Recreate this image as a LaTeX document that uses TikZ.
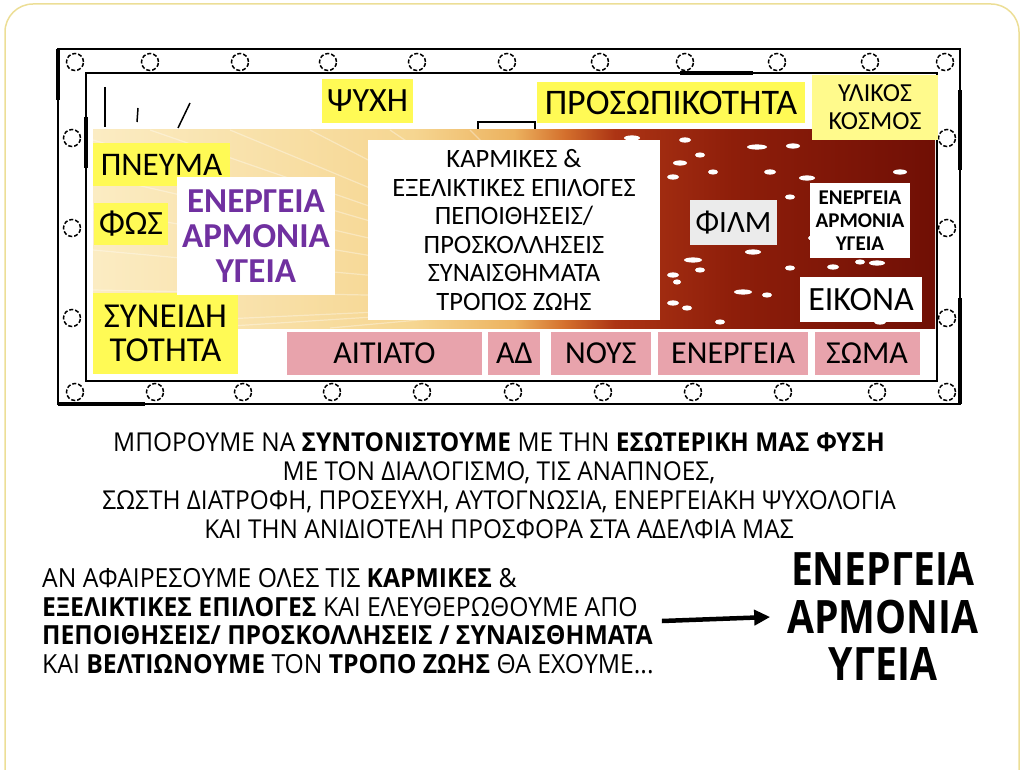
\documentclass[tikz,border=0pt]{standalone}
\usepackage{fontspec}
\setmainfont{Carlito}
\newfontfamily\condFont[FakeStretch=0.94]{Open Sans}
\newfontfamily\bigFont[FakeStretch=0.85]{Open Sans}
\usetikzlibrary{arrows.meta, positioning}
\definecolor{yellowTag}{RGB}{255,250,85}
\definecolor{yellowSoft}{RGB}{255,250,140}
\definecolor{pinkRow}{RGB}{232,163,172}
\definecolor{purpleTxt}{RGB}{112,48,160}
\definecolor{greyFilm}{RGB}{235,235,235}
\definecolor{slideEdge}{RGB}{236,222,150}
\definecolor{glowA}{RGB}{251,236,195}
\definecolor{glowB}{RGB}{246,214,145}
\definecolor{glowC}{RGB}{236,178,95}
\definecolor{glowD}{RGB}{212,112,45}
\definecolor{glowE}{RGB}{172,52,20}
\definecolor{glowF}{RGB}{142,30,10}
\definecolor{glowG}{RGB}{112,15,5}
\pgfdeclarehorizontalshading{filmGlow}{100bp}{color(0bp)=(glowA); color(25bp)=(glowA);
  color(44bp)=(glowB); color(50bp)=(glowC); color(53bp)=(glowD); color(56bp)=(glowE);
  color(63bp)=(glowF); color(75bp)=(glowG); color(100bp)=(glowG)}
\newcommand\fsz[2]{\fontsize{#1}{#2}\selectfont}

\begin{document}
\begin{tikzpicture}[x=1pt, y=-1pt,
  tag/.style={fill=yellowTag, inner sep=0pt, align=center, font=\fsz{33}{36}},
  card/.style={fill=white, inner sep=0pt, align=center},
  pinkBar/.style={fill=pinkRow, inner sep=0pt, minimum height=43pt, font=\fsz{32}{34}},
  frameLine/.style={draw=black, line width=2pt},
  heavy/.style={line width=4pt},
  sprocket/.style={draw=black, line width=1.5pt, dash pattern=on 4pt off 2pt},
  spot/.style={fill=white},
  ray/.style={white, opacity=0.35, line width=1.2pt},
  arr/.style={-{Triangle[length=16pt, width=15pt]}, line width=4.5pt}
]
  \useasboundingbox (0,0) rectangle (1024,770);
  \clip (0,0) rectangle (1024,770);
  \draw[slideEdge, line width=1.5pt, rounded corners=28pt] (5,4) rectangle (1019,800);

  % film frame
  \draw[frameLine] (58,49) rectangle (960,404);
  \draw[frameLine] (86,73) rectangle (937,381);
  \draw[heavy] (58,49) -- (58,100);
  \draw[heavy] (58,404) -- (145,404);
  \draw[heavy] (86,117) -- (86,168);
  \draw[heavy] (960,90) -- (960,170);
  \draw[heavy] (960,298) -- (960,404);
  \draw[heavy] (680,73) -- (753,73);
  \foreach \cx in {75,150,240,328,417,507,600,685,777,870,945}
    \draw[sprocket] (\cx,62) circle (8.5pt);
  \foreach \cx in {75,155,243,332,422,513,603,693,783,877,947}
    \draw[sprocket] (\cx,392) circle (8.5pt);
  \foreach \cy in {138,228,318} {
    \draw[sprocket] (72,\cy) circle (8.5pt);
    \draw[sprocket] (947,\cy) circle (8.5pt);
  }
  \draw[line width=1.5pt] (105,87) -- (105,127);
  \draw[line width=1.5pt] (138,108) -- (137,122);
  \draw[line width=1.5pt] (190,103) -- (178,128);
  \draw[line width=1.2pt] (478,132) -- (478,122) -- (535,122) -- (535,132);

  % glowing picture
  \shade[shading=filmGlow] (93,130) rectangle (935,328);
  \begin{scope}
    \clip (93,130) rectangle (600,328);
    \foreach \ex/\ey in {93/140,93/175,93/210,93/250,93/290,93/325,150/130,230/130,310/130,390/130,470/130,200/328,330/328}
      \draw[ray] (640,300) -- (\ex,\ey);
  \end{scope}
  \foreach \sx/\sy/\sr in {632/138/8,685/140/6,757/147/10,793/146/7,700/155/5,680/163/7,713/172/5,
      673/177/6,770/172/6,807/178/8,790/197/5,837/192/6,900/172/7,900/192/5,753/252/8,693/260/9,
      700/270/5,673/275/6,743/292/9,767/295/5,677/282/4,673/303/6,687/308/5,833/267/6,860/262/5,
      877/263/8,790/268/5,700/233/4,813/238/5,720/322/5,880/322/6}
    \fill[spot] (\sx,\sy) ellipse (\sr pt and 2.6pt);

  % labels
  \node[tag, minimum width=91pt, minimum height=44pt, font=\fsz{34}{36}] (psyche) at (367.5,101) {ΨΥΧΗ};
  \node[tag, minimum width=268pt, minimum height=41pt, font=\fsz{36}{38}] (persona) at (671,102.5) {ΠΡΟΣΩΠΙΚΟΤΗΤΑ};
  \node[tag, fill=yellowSoft, minimum width=126pt, minimum height=65pt, font=\fsz{26}{28}] (matter) at (875,107.5) {ΥΛΙΚΟΣ\\ΚΟΣΜΟΣ};
  \node[tag, minimum width=137pt, minimum height=43pt] (spirit) at (161.5,164.5) {ΠΝΕΥΜΑ};
  \node[tag, minimum width=74pt, minimum height=42pt, font=\fsz{34}{36}] (light) at (131,224) {ΦΩΣ};
  \node[tag, minimum width=145pt, minimum height=81pt, font=\fsz{35}{34}] (conscious) at (165.5,333.5) {ΣΥΝΕΙΔΗ\\ΤΟΤΗΤΑ};
  \node[card, minimum width=158pt, minimum height=118pt, text=purpleTxt, font=\bfseries\fsz{35}{35}] (health) at (256,236) {ΕΝΕΡΓΕΙΑ\\ΑΡΜΟΝΙΑ\\ΥΓΕΙΑ};
  \node[card, minimum width=292pt, minimum height=180pt, font=\fsz{26.5}{28.5}] (choices) at (514,230) {ΚΑΡΜΙΚΕΣ \&\\ΕΞΕΛΙΚΤΙΚΕΣ ΕΠΙΛΟΓΕΣ\\ΠΕΠΟΙΘΗΣΕΙΣ/\\ΠΡΟΣΚΟΛΛΗΣΕΙΣ\\ΣΥΝΑΙΣΘΗΜΑΤΑ\\ΤΡΟΠΟΣ ΖΩΗΣ};
  \node[card, fill=greyFilm, minimum width=87pt, minimum height=45pt, font=\fsz{31}{34}] (film) at (733.5,222.5) {ΦΙΛΜ};
  \node[card, minimum width=100pt, minimum height=75pt, font=\bfseries\fsz{21}{23}] (smallHealth) at (860,220.5) {ΕΝΕΡΓΕΙΑ\\ΑΡΜΟΝΙΑ\\ΥΓΕΙΑ};
  \node[card, minimum width=122pt, minimum height=45pt, font=\fsz{34}{35}] (image) at (861,299.5) {ΕΙΚΟΝΑ};

  % bottom strip
  \node[pinkBar, minimum width=195pt] (effect) at (384.5,353.5) {ΑΙΤΙΑΤΟ};
  \node[pinkBar, minimum width=52pt, right=6pt of effect] (ad) {ΑΔ};
  \node[pinkBar, minimum width=100pt, right=10pt of ad] (mind) {ΝΟΥΣ};
  \node[pinkBar, minimum width=150pt, right=7pt of mind] (energy) {ΕΝΕΡΓΕΙΑ};
  \node[pinkBar, minimum width=105pt, right=6pt of energy] (body) {ΣΩΜΑ};

  % texts under the frame
  \node[align=center, font=\condFont\fsz{26}{29}] (tune) at (499,486)
    {ΜΠΟΡΟΥΜΕ ΝΑ \textbf{ΣΥΝΤΟΝΙΣΤΟΥΜΕ} ΜΕ ΤΗΝ \textbf{ΕΣΩΤΕΡΙΚΗ ΜΑΣ ΦΥΣΗ}\\
     ΜΕ ΤΟΝ ΔΙΑΛΟΓΙΣΜΟ, ΤΙΣ ΑΝΑΠΝΟΕΣ,\\
     ΣΩΣΤΗ ΔΙΑΤΡΟΦΗ, ΠΡΟΣΕΥΧΗ, ΑΥΤΟΓΝΩΣΙΑ, ΕΝΕΡΓΕΙΑΚΗ ΨΥΧΟΛΟΓΙΑ\\
     ΚΑΙ ΤΗΝ ΑΝΙΔΙΟΤΕΛΗ ΠΡΟΣΦΟΡΑ ΣΤΑ ΑΔΕΛΦΙΑ ΜΑΣ};
  \node[anchor=west, align=left, inner sep=8pt, font=\condFont\fsz{26.3}{28.7}] (remove) at (34,621)
    {ΑΝ ΑΦΑΙΡΕΣΟΥΜΕ ΟΛΕΣ ΤΙΣ \textbf{ΚΑΡΜΙΚΕΣ} \&\\
     \textbf{ΕΞΕΛΙΚΤΙΚΕΣ ΕΠΙΛΟΓΕΣ} ΚΑΙ ΕΛΕΥΘΕΡΩΘΟΥΜΕ ΑΠΟ\\
     \textbf{ΠΕΠΟΙΘΗΣΕΙΣ/ ΠΡΟΣΚΟΛΛΗΣΕΙΣ / ΣΥΝΑΙΣΘΗΜΑΤΑ}\\
     ΚΑΙ \textbf{ΒΕΛΤΙΩΝΟΥΜΕ} ΤΟΝ \textbf{ΤΡΟΠΟ ΖΩΗΣ} ΘΑ ΕΧΟΥΜΕ...};
  \node[align=center, inner sep=17pt, font=\bigFont\bfseries\fsz{46}{47.5}] (result) at (883,617)
    {ΕΝΕΡΓΕΙΑ\\ΑΡΜΟΝΙΑ\\ΥΓΕΙΑ};
  \draw[arr] (remove.east) -- (result.west);
\end{tikzpicture}
\end{document}
